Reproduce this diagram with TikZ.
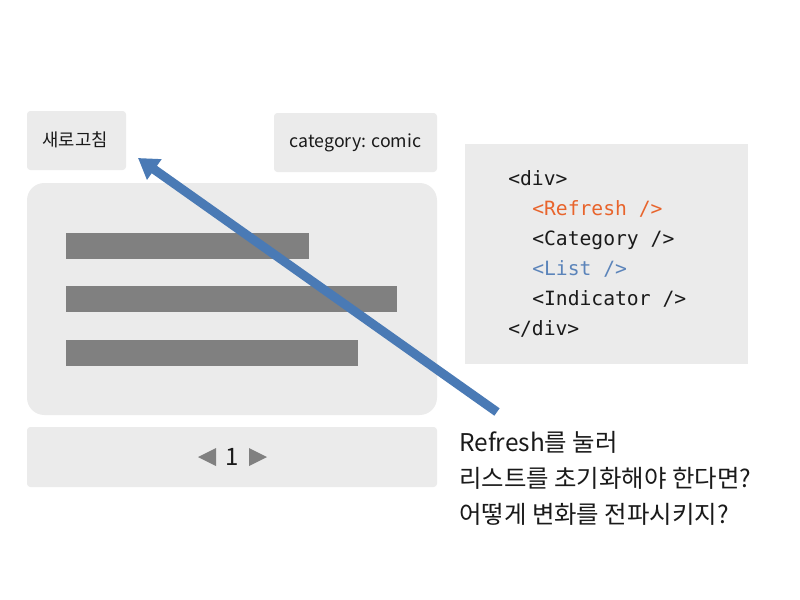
\documentclass[tikz,border=0pt]{standalone}
\usepackage{fontspec}
\setmainfont{Noto Sans CJK KR}[Scale=1]
\newfontfamily\codefont{DejaVu Sans Mono}
\usetikzlibrary{arrows.meta}
\definecolor{panel}{HTML}{EBEBEB}
\definecolor{barc}{HTML}{808080}
\definecolor{arrowc}{HTML}{4A7AB5}
\definecolor{txt}{HTML}{1A1A1A}
\definecolor{orangec}{HTML}{E8642C}
\definecolor{bluec}{HTML}{5B84BA}
\tikzset{
  x=0.75pt,y=-0.75pt,
  panelbox/.style={fill=panel,draw=none,rounded corners=2.5pt},
  barbox/.style={fill=barc,draw=none},
  label/.style={anchor=center,inner sep=0pt,text=txt,font=\fontsize{13.3pt}{16pt}\selectfont},
  codeline/.style={anchor=base west,inner sep=0pt,text=txt,font=\codefont\fontsize{14.75pt}{18pt}\selectfont},
  noteline/.style={anchor=base west,inner sep=0pt,text=txt,font=\fontsize{18.3pt}{22pt}\selectfont},
  tri/.style={fill=barc,draw=none},
  bigarrow/.style={draw=arrowc,line width=6.8pt,-{Triangle[length=15pt,width=18pt,color=arrowc]}}
}
\begin{document}
\begin{tikzpicture}
\useasboundingbox (0,0) rectangle (800,600);
\fill[white] (0,0) rectangle (800,600);
% panels
\fill[panelbox] (27,111) rectangle (126,170);
\fill[panelbox] (274,113) rectangle (437,172);
\fill[panelbox,rounded corners=13pt] (27,183) rectangle (437,415);
\fill[panelbox] (27,427) rectangle (437,487);
\fill[fill=panel] (465,144) rectangle (748,364);
% bars
\fill[barbox] (66,233) rectangle (309,259);
\fill[barbox] (66,286) rectangle (397,312);
\fill[barbox] (66,340) rectangle (358,366);
% labels
\node[label] (refresh) at (75,140) {새로고침};
\node[label] (category) at (355.5,143) {category: comic};
% indicator
\fill[tri] (198,457) -- (216,448) -- (216,466) -- cycle;
\fill[tri] (267,457) -- (249,448) -- (249,466) -- cycle;
\node[label,font=\fontsize{18pt}{20pt}\selectfont] (page) at (232.5,457) {1};
% code
\node[codeline] (c1) at (508,185) {<div>};
\node[codeline,text=orangec] (c2) at (532,215) {<Refresh />};
\node[codeline] (c3) at (532,245) {<Category />};
\node[codeline,text=bluec] (c4) at (532,275) {<List />};
\node[codeline] (c5) at (532,305) {<Indicator />};
\node[codeline] (c6) at (508,335) {</div>};
% note
\node[noteline] (n1) at (459,451) {Refresh를 눌러};
\node[noteline] (n2) at (459,487) {리스트를 초기화해야 한다면?};
\node[noteline] (n3) at (459,523) {어떻게 변화를 전파시키지?};
% arrow
\coordinate (from) at (497,412);
\coordinate (to) at (138,158);
\draw[bigarrow] (from) -- (to);
\end{tikzpicture}
\end{document}
